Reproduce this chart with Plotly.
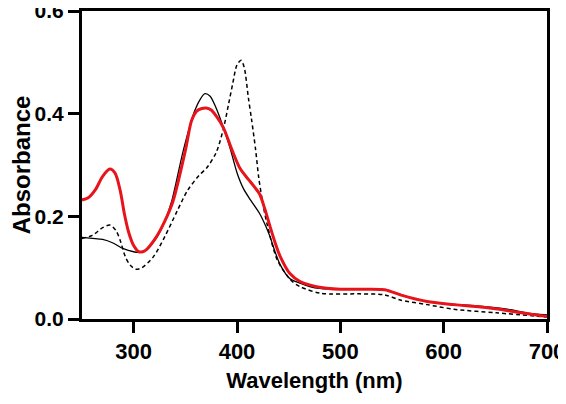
import plotly.graph_objects as go

# Black solid spectrum
solid_wl = [250, 260, 270, 280, 290, 300, 305, 312, 322, 330, 337, 348, 359, 365, 369, 374, 380, 387, 393, 400, 406, 413, 422, 428, 432, 437, 442, 451, 461, 477, 500, 520, 540, 555, 570, 585, 600, 615, 630, 650, 665, 680, 700]
solid_abs = [0.159, 0.157, 0.155, 0.148, 0.137, 0.131, 0.130, 0.134, 0.158, 0.19, 0.231, 0.328, 0.405, 0.43, 0.439, 0.434, 0.41, 0.372, 0.335, 0.285, 0.255, 0.232, 0.205, 0.18, 0.16, 0.13, 0.105, 0.079, 0.070, 0.060, 0.058, 0.058, 0.058, 0.050, 0.040, 0.034, 0.030, 0.028, 0.026, 0.022, 0.018, 0.012, 0.008]

# Red thick spectrum
red_wl = [250, 256, 263, 270, 277, 282, 287, 291, 295, 300, 305, 311, 322, 330, 338, 350, 356, 361, 366, 370, 375, 380, 387, 395, 403, 411, 417, 422, 427, 432, 437, 442, 451, 461, 477, 500, 520, 543, 558, 584, 610, 650, 675, 700]
red_abs = [0.232, 0.236, 0.252, 0.278, 0.292, 0.284, 0.25, 0.205, 0.17, 0.143, 0.131, 0.133, 0.16, 0.19, 0.229, 0.328, 0.386, 0.405, 0.41, 0.411, 0.407, 0.395, 0.372, 0.33, 0.293, 0.272, 0.257, 0.243, 0.214, 0.18, 0.148, 0.121, 0.089, 0.073, 0.063, 0.058, 0.058, 0.057, 0.047, 0.034, 0.028, 0.020, 0.012, 0.005]

# Black dashed spectrum
dash_wl = [250, 260, 270, 277, 283, 287, 292, 297, 302, 308, 319, 330, 342, 352, 363, 371, 380, 387, 392, 396, 400, 404, 407, 411, 414, 418, 421, 425, 429, 439, 452, 461, 481, 519, 543, 558, 584, 610, 651, 700]
dash_abs = [0.157, 0.163, 0.178, 0.183, 0.172, 0.153, 0.121, 0.104, 0.097, 0.100, 0.121, 0.16, 0.21, 0.25, 0.279, 0.295, 0.325, 0.372, 0.42, 0.46, 0.495, 0.504, 0.49, 0.431, 0.39, 0.33, 0.276, 0.225, 0.186, 0.115, 0.076, 0.063, 0.050, 0.049, 0.047, 0.037, 0.028, 0.019, 0.012, 0.004]

x_ticks = [300, 400, 500, 600, 700]
y_ticks = [0.0, 0.2, 0.4, 0.6]
y_tick_text = ["0.0", "0.2", "0.4", "0.6"]

FONT = "Arial, Liberation Sans, sans-serif"

fig = go.Figure()
fig.add_trace(go.Scatter(x=solid_wl, y=solid_abs, mode="lines",
                         line=dict(color="black", width=1.3, shape="spline", smoothing=0.8)))
fig.add_trace(go.Scatter(x=dash_wl, y=dash_abs, mode="lines",
                         line=dict(color="black", width=1.5, dash="4px,3px", shape="spline", smoothing=0.8)))
fig.add_trace(go.Scatter(x=red_wl, y=red_abs, mode="lines",
                         line=dict(color="#e8141b", width=3, shape="spline", smoothing=0.8)))

# The page body keeps its default 8px margin, so margins compensate for it
fig.update_layout(
    width=566, height=404,
    margin=dict(l=74, r=27, t=3, b=93),
    paper_bgcolor="white", plot_bgcolor="white",
    showlegend=False,
    font=dict(family=FONT, color="black"),
)
fig.update_xaxes(
    range=[250, 700], tickvals=x_ticks, automargin=False,
    showline=True, linecolor="black", linewidth=3, mirror=True,
    ticks="outside", ticklen=11, tickwidth=2.5, tickcolor="black",
    showgrid=False, zeroline=False,
    tickfont=dict(family=FONT, size=22, weight="bold"),
    title=dict(text="Wavelength (nm)", font=dict(family=FONT, size=22, weight="bold"), standoff=10),
)
fig.update_yaxes(
    range=[0, 0.6], tickvals=y_ticks, ticktext=y_tick_text, automargin=False, ticklabeloverflow="allow",
    showline=True, linecolor="black", linewidth=3, mirror=True,
    ticks="outside", ticklen=11, tickwidth=2.5, tickcolor="black",
    showgrid=False, zeroline=False,
    tickfont=dict(family=FONT, size=21, weight="bold"),
    title=dict(text="Absorbance", font=dict(family=FONT, size=24, weight="bold"), standoff=8),
)

fig.write_html("out.html")
